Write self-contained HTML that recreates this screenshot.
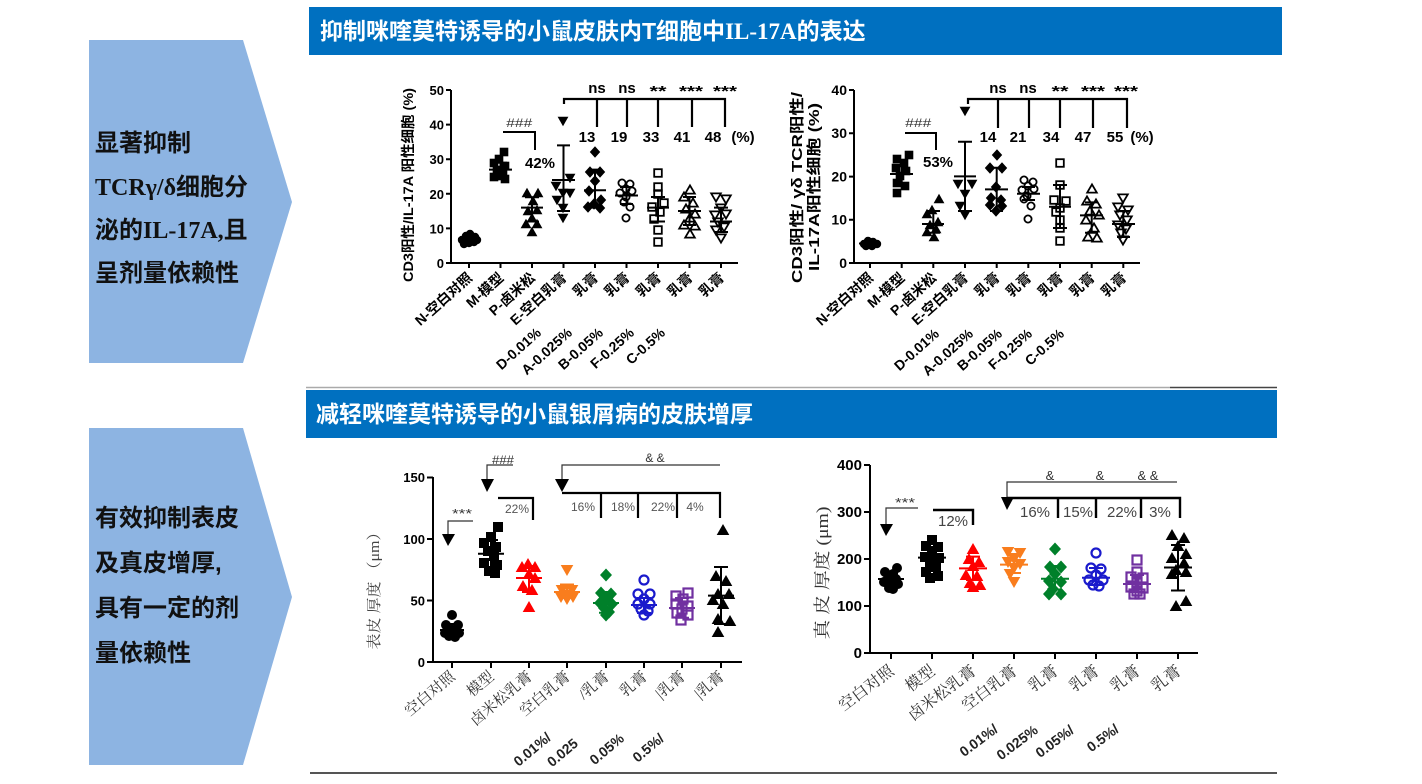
<!DOCTYPE html>
<html><head><meta charset="utf-8">
<style>
html,body{margin:0;padding:0;background:#fff;}
svg{display:block;}
.s{font-family:"Liberation Sans","Noto Sans CJK SC",sans-serif;}
.sr{font-family:"Liberation Serif","Noto Serif CJK SC",serif;}
</style></head><body>
<svg width="1422" height="784" viewBox="0 0 1422 784" xmlns="http://www.w3.org/2000/svg">
<defs>
<circle id="c" r="4.2"/>
<rect id="q" x="-4.3" y="-4.3" width="8.6" height="8.6"/>
<path id="t" d="M0,-5.2L5.4,4.2L-5.4,4.2Z"/>
<path id="v" d="M0,5.2L5.4,-4.2L-5.4,-4.2Z"/>
<path id="d" d="M0,-5.8L5.2,0L0,5.8L-5.2,0Z"/>
<circle id="oc" r="3.6"/>
<rect id="oq" x="-3.8" y="-3.8" width="7.6" height="7.6"/>
<path id="ot" d="M0,-4.6L4.8,3.6L-4.8,3.6Z"/>
<path id="ov" d="M0,4.6L4.8,-3.6L-4.8,-3.6Z"/>
<circle id="C2" r="5"/>
<rect id="Q2" x="-5" y="-5" width="10" height="10"/>
<path id="T2" d="M0,-6L6.3,5L-6.3,5Z"/>
<path id="V2" d="M0,6L6.3,-5L-6.3,-5Z"/>
<path id="D2" d="M0,-6.5L6,0L0,6.5L-6,0Z"/>
<circle id="OC2" r="4.5"/>
<rect id="OQ2" x="-4.5" y="-4.5" width="9" height="9"/>
</defs>
<rect width="1422" height="784" fill="#fff"/>

<!-- Left arrows -->
<polygon points="89,40 243,40 292,202 243,363 89,363" fill="#8db4e2"/>
<polygon points="89,428 243,428 292,597 243,765 89,765" fill="#8db4e2"/>
<g class="s" font-size="24" font-weight="bold" fill="#111">
<text x="95" y="151">显著抑制</text>
<text x="95" y="195"><tspan font-family="Liberation Serif">TCRγ/δ</tspan>细胞分</text>
<text x="95" y="238">泌的<tspan font-family="Liberation Serif">IL-17A,</tspan>且</text>
<text x="95" y="281">呈剂量依赖性</text>
<text x="95" y="526">有效抑制表皮</text>
<text x="95" y="571">及真皮增厚,</text>
<text x="95" y="616">具有一定的剂</text>
<text x="95" y="661">量依赖性</text>
</g>

<!-- Headers -->
<rect x="309" y="7" width="973" height="48" fill="#0070c0"/>
<text class="s" x="320" y="39" fill="#fff" font-size="23" font-weight="bold">抑制咪喹莫特诱导的小鼠皮肤内T细胞中<tspan font-family="Liberation Serif">IL-17A</tspan>的表达</text>
<path d="M306,387.5H1170" stroke="#aaa" stroke-width="1.5"/>
<path d="M1170,387.5H1277" stroke="#444" stroke-width="1.5"/>
<rect x="306" y="390" width="971" height="48" fill="#0070c0"/>
<text class="s" x="316" y="422" fill="#fff" font-size="23" font-weight="bold">减轻咪喹莫特诱导的小鼠银屑病的皮肤增厚</text>
<path d="M310,773H1277" stroke="#555" stroke-width="2"/>

<!-- ============ TOP LEFT CHART ============ -->
<g class="s" font-weight="bold" fill="#000">
<path d="M451,90V263H738" stroke="#000" stroke-width="2" fill="none"/>
<path d="M446,90H451M446,124.6H451M446,159.2H451M446,193.8H451M446,228.4H451M446,263H451" stroke="#000" stroke-width="2"/>
<path d="M469,263V268M500.5,263V268M532,263V268M563.5,263V268M595,263V268M626.5,263V268M658,263V268M689.5,263V268M721,263V268" stroke="#000" stroke-width="2"/>
<g font-size="13" text-anchor="end">
<text x="444" y="95">50</text><text x="444" y="129.6">40</text><text x="444" y="164">30</text>
<text x="444" y="198.8">20</text><text x="444" y="233.4">10</text><text x="444" y="268">0</text>
</g>
<text transform="translate(413,185) rotate(-90)" text-anchor="middle" font-size="14" textLength="194" lengthAdjust="spacingAndGlyphs">CD3阳性/IL-17A 阳性细胞 (%)</text>
<!-- markers -->
<g fill="#000">
<use href="#c" x="462" y="240"/><use href="#c" x="466" y="236"/><use href="#c" x="470" y="234"/><use href="#c" x="475" y="237"/><use href="#c" x="464" y="244"/><use href="#c" x="469" y="243"/><use href="#c" x="474" y="242"/><use href="#c" x="471" y="239"/><use href="#c" x="477" y="240"/><use href="#c" x="467" y="239"/>
<use href="#q" x="504" y="152"/><use href="#q" x="499" y="159"/><use href="#q" x="494" y="163"/><use href="#q" x="505" y="166"/><use href="#q" x="497" y="170"/><use href="#q" x="503" y="172"/><use href="#q" x="494" y="177"/><use href="#q" x="505" y="179"/><use href="#q" x="500" y="176"/>
<use href="#t" x="527" y="193"/><use href="#t" x="538" y="193"/><use href="#t" x="533" y="201"/><use href="#t" x="528" y="211"/><use href="#t" x="537" y="210"/><use href="#t" x="532" y="218"/><use href="#t" x="526" y="224"/><use href="#t" x="537" y="224"/><use href="#t" x="532" y="232"/>
<use href="#v" x="563" y="121"/><use href="#v" x="570" y="178"/><use href="#v" x="556" y="186"/><use href="#v" x="563" y="193"/><use href="#v" x="570" y="193"/><use href="#v" x="557" y="200"/><use href="#v" x="563" y="208"/><use href="#v" x="563" y="218"/>
<use href="#d" x="595" y="152"/><use href="#d" x="590" y="172"/><use href="#d" x="600" y="172"/><use href="#d" x="595" y="181"/><use href="#d" x="589" y="191"/><use href="#d" x="601" y="200"/><use href="#d" x="594" y="204"/><use href="#d" x="588" y="207"/><use href="#d" x="600" y="208"/>
</g>
<g fill="none" stroke="#000" stroke-width="1.8">
<use href="#oc" x="622" y="183"/><use href="#oc" x="630" y="184"/><use href="#oc" x="626" y="189"/><use href="#oc" x="620" y="193"/><use href="#oc" x="632" y="191"/><use href="#oc" x="626" y="197"/><use href="#oc" x="624" y="202"/><use href="#oc" x="630" y="207"/><use href="#oc" x="626" y="218"/>
<use href="#oq" x="658" y="173"/><use href="#oq" x="658" y="187"/><use href="#oq" x="658" y="194"/><use href="#oq" x="664" y="203"/><use href="#oq" x="652" y="207"/><use href="#oq" x="660" y="212"/><use href="#oq" x="654" y="219"/><use href="#oq" x="658" y="230"/><use href="#oq" x="658" y="242"/>
<use href="#ot" x="690" y="190"/><use href="#ot" x="684" y="197"/><use href="#ot" x="693" y="203"/><use href="#ot" x="686" y="209"/><use href="#ot" x="695" y="214"/><use href="#ot" x="690" y="218"/><use href="#ot" x="684" y="225"/><use href="#ot" x="695" y="226"/><use href="#ot" x="690" y="234"/>
<use href="#ov" x="716" y="197"/><use href="#ov" x="726" y="199"/><use href="#ov" x="721" y="208"/><use href="#ov" x="715" y="215"/><use href="#ov" x="726" y="214"/><use href="#ov" x="718" y="222"/><use href="#ov" x="724" y="227"/><use href="#ov" x="716" y="230"/><use href="#ov" x="721" y="238"/>
</g>
<!-- error bars -->
<path fill="none" stroke="#000" stroke-width="2" d="
M469,242V235.5M463,242H475M463,235.5H475M458,238.8H480
M500.5,176.5V162.7M494,176.5H507M494,162.7H507M489,169.6H512
M532,221.5V197.3M525,221.5H539M525,197.3H539M521,207.6H543
M563.5,211V145.4M557,211H570M557,145.4H570M552,180H575
M595,207.6V169.6M588,207.6H602M588,169.6H602M584,190.3H606
M626.5,204V187M620,204H633M620,187H633M615,195.5H638
M658,221.5V197M651,221.5H665M651,197H665M647,207.6H669
M689.5,225V197M683,225H696M683,197H696M678,211H701
M721,232V207.6M714,232H728M714,207.6H728M710,221.5H732"/>
<!-- annotations -->
<text x="519" y="127" font-size="12" font-weight="normal" font-style="italic" fill="#333" text-anchor="middle" textLength="26" lengthAdjust="spacingAndGlyphs">###</text>
<path d="M503,132H535V150" fill="none" stroke="#000" stroke-width="2"/>
<text x="540" y="168" font-size="15" text-anchor="middle">42%</text>
<path d="M564,104V99H725V127M597,99V127M627,99V127M658,99V127M692,99V127" fill="none" stroke="#000" stroke-width="2.2"/>
<g font-size="15" text-anchor="middle">
<text x="597" y="93">ns</text><text x="627" y="93">ns</text>
<text x="658" y="96" textLength="17" lengthAdjust="spacingAndGlyphs">**</text>
<text x="691" y="96" textLength="24" lengthAdjust="spacingAndGlyphs">***</text>
<text x="725" y="96" textLength="24" lengthAdjust="spacingAndGlyphs">***</text>
<text x="587" y="142">13</text><text x="619" y="142">19</text><text x="651" y="142">33</text><text x="682" y="142">41</text><text x="713" y="142">48</text><text x="743" y="142">(%)</text>
</g>
<!-- x labels -->
<g font-size="14" text-anchor="end">
<text transform="translate(473,279) rotate(-42)">N-空白对照</text>
<text transform="translate(504.5,279) rotate(-42)">M-模型</text>
<text transform="translate(536,279) rotate(-42)">P-卤米松</text>
<text transform="translate(567.5,279) rotate(-42)">E-空白乳膏</text>
<text transform="translate(599,279) rotate(-42)">乳膏</text>
<text transform="translate(630.5,279) rotate(-42)">乳膏</text>
<text transform="translate(662,279) rotate(-42)">乳膏</text>
<text transform="translate(693.5,279) rotate(-42)">乳膏</text>
<text transform="translate(725,279) rotate(-42)">乳膏</text>
<text transform="translate(542,334) rotate(-42)">D-0.01%</text>
<text transform="translate(573,334) rotate(-42)">A-0.025%</text>
<text transform="translate(604,334) rotate(-42)">B-0.05%</text>
<text transform="translate(635,334) rotate(-42)">F-0.25%</text>
<text transform="translate(666,334) rotate(-42)">C-0.5%</text>
</g>
</g>

<!-- ============ TOP RIGHT CHART ============ -->
<g class="s" font-weight="bold" fill="#000">
<path d="M854,90V263H1140" stroke="#000" stroke-width="2" fill="none"/>
<path d="M849,90H854M849,133.3H854M849,176.6H854M849,219.7H854M849,263H854" stroke="#000" stroke-width="2"/>
<path d="M870,263V268M901.7,263V268M933.3,263V268M965,263V268M996.7,263V268M1028.3,263V268M1060,263V268M1091.7,263V268M1123.3,263V268" stroke="#000" stroke-width="2"/>
<g font-size="14" text-anchor="end">
<text x="847" y="95">40</text><text x="847" y="138">30</text><text x="847" y="181.5">20</text><text x="847" y="224.7">10</text><text x="847" y="268">0</text>
</g>
<text transform="translate(802,187.5) rotate(-90)" text-anchor="middle" font-size="15" textLength="191" lengthAdjust="spacingAndGlyphs">CD3阳性/ γδ TCR阳性/</text>
<text transform="translate(819,187) rotate(-90)" text-anchor="middle" font-size="15" textLength="168" lengthAdjust="spacingAndGlyphs">IL-17A阳性细胞 (%)</text>
<g fill="#000">
<use href="#c" x="864" y="244"/><use href="#c" x="868" y="241"/><use href="#c" x="873" y="242"/><use href="#c" x="877" y="244"/><use href="#c" x="866" y="246"/><use href="#c" x="872" y="246"/><use href="#c" x="870" y="243"/>
<use href="#q" x="909" y="155"/><use href="#q" x="897" y="159"/><use href="#q" x="904" y="163"/><use href="#q" x="896" y="168"/><use href="#q" x="906" y="171"/><use href="#q" x="900" y="176"/><use href="#q" x="897" y="183"/><use href="#q" x="905" y="186"/><use href="#q" x="897" y="193"/>
<use href="#t" x="939" y="199"/><use href="#t" x="932" y="210"/><use href="#t" x="927" y="214"/><use href="#t" x="938" y="222"/><use href="#t" x="930" y="225"/><use href="#t" x="936" y="229"/><use href="#t" x="927" y="232"/><use href="#t" x="934" y="237"/>
<use href="#v" x="965" y="111"/><use href="#v" x="958" y="184"/><use href="#v" x="972" y="184"/><use href="#v" x="965" y="194"/><use href="#v" x="960" y="206"/><use href="#v" x="965" y="215"/>
<use href="#d" x="997" y="155"/><use href="#d" x="990" y="168"/><use href="#d" x="1002" y="168"/><use href="#d" x="996" y="187"/><use href="#d" x="991" y="198"/><use href="#d" x="1001" y="200"/><use href="#d" x="990" y="205"/><use href="#d" x="1002" y="206"/><use href="#d" x="996" y="211"/>
</g>
<g fill="none" stroke="#000" stroke-width="1.8">
<use href="#oc" x="1024" y="180"/><use href="#oc" x="1033" y="182"/><use href="#oc" x="1028" y="186"/><use href="#oc" x="1022" y="190"/><use href="#oc" x="1034" y="189"/><use href="#oc" x="1027" y="196"/><use href="#oc" x="1024" y="199"/><use href="#oc" x="1031" y="206"/><use href="#oc" x="1028" y="219"/>
<use href="#oq" x="1060" y="163"/><use href="#oq" x="1060" y="185"/><use href="#oq" x="1054" y="200"/><use href="#oq" x="1066" y="201"/><use href="#oq" x="1060" y="208"/><use href="#oq" x="1056" y="212"/><use href="#oq" x="1060" y="220"/><use href="#oq" x="1060" y="228"/><use href="#oq" x="1060" y="241"/>
<use href="#ot" x="1092" y="189"/><use href="#ot" x="1087" y="201"/><use href="#ot" x="1096" y="204"/><use href="#ot" x="1090" y="211"/><use href="#ot" x="1099" y="215"/><use href="#ot" x="1086" y="220"/><use href="#ot" x="1094" y="228"/><use href="#ot" x="1088" y="237"/><use href="#ot" x="1097" y="238"/>
<use href="#ov" x="1123" y="198"/><use href="#ov" x="1118" y="207"/><use href="#ov" x="1128" y="210"/><use href="#ov" x="1120" y="215"/><use href="#ov" x="1127" y="220"/><use href="#ov" x="1118" y="225"/><use href="#ov" x="1126" y="229"/><use href="#ov" x="1121" y="233"/><use href="#ov" x="1123" y="240"/>
</g>
<path fill="none" stroke="#000" stroke-width="2" d="
M870,245V242M864,245H876M864,242H876M859,243.5H881
M901.7,183V165.6M895,183H908M895,165.6H908M890,174H913
M933.3,232.7V211M927,232.7H940M927,211H940M922,224H944
M965,211V141.8M958,211H972M958,141.8H972M954,176.4H976
M996.7,211V167.7M990,211H1003M990,167.7H1003M985,189.4H1008
M1028.3,200V187M1022,200H1035M1022,187H1035M1017,193.7H1040
M1060,228V185M1053,228H1067M1053,185H1067M1049,206.7H1071
M1091.7,232.7V202.4M1085,232.7H1098M1085,202.4H1098M1080,215.4H1103
M1123.3,237V211M1117,237H1130M1117,211H1130M1112,224H1135"/>
<text x="918" y="127" font-size="12" font-weight="normal" font-style="italic" fill="#333" text-anchor="middle" textLength="26" lengthAdjust="spacingAndGlyphs">###</text>
<path d="M905,133H936V150" fill="none" stroke="#000" stroke-width="2"/>
<text x="938" y="167" font-size="15" text-anchor="middle">53%</text>
<path d="M968,104V99H1127V128M998,99V128M1029,99V128M1060,99V128M1093,99V128" fill="none" stroke="#000" stroke-width="2.2"/>
<g font-size="15" text-anchor="middle">
<text x="998" y="93">ns</text><text x="1028" y="93">ns</text>
<text x="1060" y="96" textLength="17" lengthAdjust="spacingAndGlyphs">**</text>
<text x="1093" y="96" textLength="24" lengthAdjust="spacingAndGlyphs">***</text>
<text x="1126" y="96" textLength="24" lengthAdjust="spacingAndGlyphs">***</text>
<text x="988" y="142">14</text><text x="1018" y="142">21</text><text x="1051" y="142">34</text><text x="1083" y="142">47</text><text x="1115" y="142">55</text><text x="1142" y="142">(%)</text>
</g>
<g font-size="14" text-anchor="end">
<text transform="translate(874,279) rotate(-42)">N-空白对照</text>
<text transform="translate(905.7,279) rotate(-42)">M-模型</text>
<text transform="translate(937.3,279) rotate(-42)">P-卤米松</text>
<text transform="translate(969,279) rotate(-42)">E-空白乳膏</text>
<text transform="translate(1000.7,279) rotate(-42)">乳膏</text>
<text transform="translate(1032.3,279) rotate(-42)">乳膏</text>
<text transform="translate(1064,279) rotate(-42)">乳膏</text>
<text transform="translate(1095.7,279) rotate(-42)">乳膏</text>
<text transform="translate(1127.3,279) rotate(-42)">乳膏</text>
<text transform="translate(940,335) rotate(-42)">D-0.01%</text>
<text transform="translate(974,335) rotate(-42)">A-0.025%</text>
<text transform="translate(1003,335) rotate(-42)">B-0.05%</text>
<text transform="translate(1033,335) rotate(-42)">F-0.25%</text>
<text transform="translate(1065,335) rotate(-42)">C-0.5%</text>
</g>
</g>

<!-- ============ BOTTOM LEFT CHART ============ -->
<g class="s" font-weight="bold" fill="#000">
<path d="M433,477V662H742" stroke="#000" stroke-width="2" fill="none"/>
<path d="M427,477.5H433M427,539H433M427,600.5H433M427,662H433" stroke="#000" stroke-width="2"/>
<path d="M452,662V668M491,662V668M529,662V668M567,662V668M606,662V668M644,662V668M682,662V668M721,662V668" stroke="#000" stroke-width="2"/>
<g font-size="13" text-anchor="end">
<text x="425" y="482">150</text><text x="425" y="544">100</text><text x="425" y="605.5">50</text><text x="425" y="667">0</text>
</g>
<text class="sr" transform="translate(379,587) rotate(-90)" text-anchor="middle" font-size="15" font-weight="normal" fill="#444" textLength="125" lengthAdjust="spacingAndGlyphs">表皮 厚度 （μm）</text>
<g fill="#000">
<use href="#C2" x="452" y="615"/><use href="#C2" x="446" y="625"/><use href="#C2" x="458" y="625"/><use href="#C2" x="452" y="630"/><use href="#C2" x="445" y="633"/><use href="#C2" x="459" y="633"/><use href="#C2" x="449" y="636"/><use href="#C2" x="455" y="637"/>
<use href="#Q2" x="498" y="527"/><use href="#Q2" x="491" y="537"/><use href="#Q2" x="484" y="543"/><use href="#Q2" x="496" y="547"/><use href="#Q2" x="488" y="551"/><use href="#Q2" x="494" y="556"/><use href="#Q2" x="484" y="563"/><use href="#Q2" x="497" y="565"/><use href="#Q2" x="489" y="571"/><use href="#Q2" x="495" y="573"/>
<use href="#T2" x="723" y="530"/><use href="#T2" x="716" y="576"/><use href="#T2" x="726" y="581"/><use href="#T2" x="718" y="594"/><use href="#T2" x="729" y="594"/><use href="#T2" x="713" y="600"/><use href="#T2" x="723" y="604"/><use href="#T2" x="718" y="619"/><use href="#T2" x="730" y="621"/><use href="#T2" x="718" y="632"/>
</g>
<g fill="#ff0000">
<use href="#T2" x="528" y="564"/><use href="#T2" x="535" y="567"/><use href="#T2" x="522" y="567"/><use href="#T2" x="529" y="574"/><use href="#T2" x="535" y="578"/><use href="#T2" x="523" y="586"/><use href="#T2" x="532" y="590"/><use href="#T2" x="529" y="607"/>
</g>
<g fill="#f97d1d">
<use href="#V2" x="567" y="570"/><use href="#V2" x="562" y="590"/><use href="#V2" x="572" y="590"/><use href="#V2" x="567" y="595"/><use href="#V2" x="561" y="597"/><use href="#V2" x="573" y="597"/><use href="#V2" x="567" y="599"/>
</g>
<g fill="#00802a">
<use href="#D2" x="606" y="575"/><use href="#D2" x="601" y="593"/><use href="#D2" x="611" y="594"/><use href="#D2" x="606" y="599"/><use href="#D2" x="600" y="603"/><use href="#D2" x="612" y="604"/><use href="#D2" x="604" y="608"/><use href="#D2" x="609" y="612"/><use href="#D2" x="606" y="615"/>
</g>
<g fill="none" stroke="#1a1acc" stroke-width="2.2">
<use href="#OC2" x="644" y="580"/><use href="#OC2" x="638" y="594"/><use href="#OC2" x="650" y="594"/><use href="#OC2" x="644" y="599"/><use href="#OC2" x="638" y="604"/><use href="#OC2" x="650" y="604"/><use href="#OC2" x="641" y="609"/><use href="#OC2" x="648" y="611"/><use href="#OC2" x="644" y="615"/>
</g>
<g fill="none" stroke="#7030a0" stroke-width="2.2">
<use href="#OQ2" x="688" y="593"/><use href="#OQ2" x="676" y="596"/><use href="#OQ2" x="683" y="599"/><use href="#OQ2" x="676" y="604"/><use href="#OQ2" x="688" y="606"/><use href="#OQ2" x="682" y="609"/><use href="#OQ2" x="677" y="613"/><use href="#OQ2" x="688" y="615"/><use href="#OQ2" x="681" y="620"/>
</g>
<path fill="none" stroke="#000" stroke-width="2" d="M452,635V624M445,635H459M445,624H459M440,630H464
M491,567V540M484,567H498M484,540H498M478,553.8H504
M721,624V567M714,624H728M714,567H728M708,595.6H734"/>
<path fill="none" stroke="#ff0000" stroke-width="2" d="M529,592V566M522,592H536M522,566H536M516,578H542"/>
<path fill="none" stroke="#f97d1d" stroke-width="2" d="M567,598V584.5M560,598H574M560,584.5H574M554,592H580"/>
<path fill="none" stroke="#00802a" stroke-width="2" d="M606,612.8V592M599,612.8H613M599,592H613M593,603H619"/>
<path fill="none" stroke="#1a1acc" stroke-width="2" d="M644,613V598M637,613H651M637,598H651M631,605H657"/>
<path fill="none" stroke="#7030a0" stroke-width="2" d="M682,617.7V598M675,617.7H689M675,598H689M669,608H695"/>
<!-- annotations -->
<g font-weight="normal" fill="#333" text-anchor="middle">
<text x="462" y="518" font-size="13" textLength="20" lengthAdjust="spacingAndGlyphs">***</text>
<text x="503" y="464" font-size="12" textLength="22" lengthAdjust="spacingAndGlyphs">###</text>
<text x="517" y="513" font-size="12" fill="#555">22%</text>
<text x="655" y="462" font-size="12">&amp; &amp;</text>
<text x="583" y="511" font-size="12" fill="#555">16%</text>
<text x="623" y="511" font-size="12" fill="#555">18%</text>
<text x="663" y="511" font-size="12" fill="#555">22%</text>
<text x="695" y="511" font-size="12" fill="#555">4%</text>
</g>
<path d="M473,521H448V536M513,465H487V480M720,465H562V480" fill="none" stroke="#333" stroke-width="1.2"/>
<path d="M442,534H455L448,546ZM481,479H494L487,492ZM555,479H569L562,492Z" fill="#000"/>
<path d="M498,498H533V520M562,493H720V518M601,493V518M638,493V518M677,493V518" fill="none" stroke="#000" stroke-width="2.2"/>
<!-- x labels -->
<g class="sr" font-size="15" font-weight="normal" fill="#333" text-anchor="end">
<text transform="translate(456,678) rotate(-40)">空白对照</text>
<text transform="translate(495,678) rotate(-40)">模型</text>
<text transform="translate(533,678) rotate(-40)">卤米松乳膏</text>
<text transform="translate(571,678) rotate(-40)">空白乳膏</text>
<text transform="translate(610,678) rotate(-40)">/乳膏</text>
<text transform="translate(648,678) rotate(-40)">乳膏</text>
<text transform="translate(686,678) rotate(-40)">|乳膏</text>
<text transform="translate(725,678) rotate(-40)">|乳膏</text>
</g>
<g font-size="14" fill="#222" text-anchor="end">
<text transform="translate(552,739) rotate(-40)">0.01%/</text>
<text transform="translate(579,745) rotate(-40)">0.025</text>
<text transform="translate(625,740) rotate(-40)">0.05%</text>
<text transform="translate(665,740) rotate(-40)">0.5%/</text>
</g>
</g>

<!-- ============ BOTTOM RIGHT CHART ============ -->
<g class="s" font-weight="bold" fill="#000">
<path d="M870,465V653H1198" stroke="#000" stroke-width="2" fill="none"/>
<path d="M864,465H870M864,512H870M864,559H870M864,606H870M864,653H870" stroke="#000" stroke-width="2"/>
<path d="M891,653V659M932,653V659M973,653V659M1014,653V659M1055,653V659M1096,653V659M1137,653V659M1178,653V659" stroke="#000" stroke-width="2"/>
<g font-size="15" text-anchor="end">
<text x="862" y="470">400</text><text x="862" y="517">300</text><text x="862" y="564">200</text><text x="862" y="611">100</text><text x="862" y="658">0</text>
</g>
<text class="sr" transform="translate(828,573) rotate(-90)" text-anchor="middle" font-size="17" font-weight="normal" fill="#333" textLength="133" lengthAdjust="spacingAndGlyphs">真 皮 厚度 (μm)</text>
<g fill="#000">
<use href="#C2" x="897" y="568"/><use href="#C2" x="885" y="572"/><use href="#C2" x="893" y="574"/><use href="#C2" x="888" y="578"/><use href="#C2" x="896" y="579"/><use href="#C2" x="884" y="582"/><use href="#C2" x="891" y="583"/><use href="#C2" x="898" y="584"/><use href="#C2" x="889" y="588"/><use href="#C2" x="893" y="589"/>
<use href="#Q2" x="932" y="540"/><use href="#Q2" x="926" y="546"/><use href="#Q2" x="938" y="547"/><use href="#Q2" x="932" y="553"/><use href="#Q2" x="925" y="557"/><use href="#Q2" x="939" y="558"/><use href="#Q2" x="930" y="563"/><use href="#Q2" x="936" y="567"/><use href="#Q2" x="926" y="572"/><use href="#Q2" x="938" y="576"/><use href="#Q2" x="930" y="578"/>
<use href="#T2" x="1172" y="535"/><use href="#T2" x="1184" y="538"/><use href="#T2" x="1178" y="546"/><use href="#T2" x="1186" y="554"/><use href="#T2" x="1172" y="558"/><use href="#T2" x="1184" y="563"/><use href="#T2" x="1176" y="570"/><use href="#T2" x="1186" y="572"/><use href="#T2" x="1172" y="574"/><use href="#T2" x="1186" y="601"/><use href="#T2" x="1176" y="606"/>
</g>
<g fill="#ff0000">
<use href="#T2" x="973" y="549"/><use href="#T2" x="969" y="559"/><use href="#T2" x="979" y="562"/><use href="#T2" x="973" y="566"/><use href="#T2" x="966" y="575"/><use href="#T2" x="977" y="576"/><use href="#T2" x="970" y="583"/><use href="#T2" x="980" y="585"/><use href="#T2" x="973" y="587"/>
</g>
<g fill="#f97d1d">
<use href="#V2" x="1008" y="552"/><use href="#V2" x="1020" y="553"/><use href="#V2" x="1014" y="559"/><use href="#V2" x="1008" y="562"/><use href="#V2" x="1020" y="564"/><use href="#V2" x="1014" y="568"/><use href="#V2" x="1010" y="574"/><use href="#V2" x="1014" y="582"/>
</g>
<g fill="#00802a">
<use href="#D2" x="1055" y="549"/><use href="#D2" x="1050" y="567"/><use href="#D2" x="1061" y="567"/><use href="#D2" x="1055" y="574"/><use href="#D2" x="1049" y="581"/><use href="#D2" x="1061" y="582"/><use href="#D2" x="1053" y="589"/><use href="#D2" x="1049" y="594"/><use href="#D2" x="1061" y="594"/>
</g>
<g fill="none" stroke="#1a1acc" stroke-width="2.2">
<use href="#OC2" x="1096" y="553"/><use href="#OC2" x="1091" y="568"/><use href="#OC2" x="1101" y="569"/><use href="#OC2" x="1096" y="575"/><use href="#OC2" x="1089" y="580"/><use href="#OC2" x="1103" y="580"/><use href="#OC2" x="1093" y="585"/><use href="#OC2" x="1099" y="586"/>
</g>
<g fill="none" stroke="#7030a0" stroke-width="2.2">
<use href="#OQ2" x="1137" y="560"/><use href="#OQ2" x="1137" y="572"/><use href="#OQ2" x="1131" y="577"/><use href="#OQ2" x="1143" y="578"/><use href="#OQ2" x="1137" y="583"/><use href="#OQ2" x="1131" y="587"/><use href="#OQ2" x="1143" y="588"/><use href="#OQ2" x="1137" y="591"/><use href="#OQ2" x="1134" y="594"/><use href="#OQ2" x="1140" y="594"/>
</g>
<path fill="none" stroke="#000" stroke-width="2" d="M891,585V573M884,585H898M884,573H898M878,579H904
M932,568.4V547M925,568.4H939M925,547H939M918,557.6H946
M1178,590.5V545M1171,590.5H1185M1171,545H1185M1164,567.5H1192"/>
<path fill="none" stroke="#ff0000" stroke-width="2" d="M973,580V556.6M966,580H980M966,556.6H980M959,568.4H987"/>
<path fill="none" stroke="#f97d1d" stroke-width="2" d="M1014,573V554M1007,573H1021M1007,554H1021M1000,564.6H1028"/>
<path fill="none" stroke="#00802a" stroke-width="2" d="M1055,589.5V566M1048,589.5H1062M1048,566H1062M1041,578.7H1069"/>
<path fill="none" stroke="#1a1acc" stroke-width="2" d="M1096,585V568M1089,585H1103M1089,568H1103M1082,577.8H1110"/>
<path fill="none" stroke="#7030a0" stroke-width="2" d="M1137,592V575M1130,592H1144M1130,575H1144M1123,584H1151"/>
<g font-weight="normal" fill="#333" text-anchor="middle">
<text x="905" y="507" font-size="13" textLength="20" lengthAdjust="spacingAndGlyphs">***</text>
<text x="953" y="526" font-size="15" fill="#444">12%</text>
<text x="1050" y="480" font-size="13">&amp;</text>
<text x="1100" y="480" font-size="13">&amp;</text>
<text x="1148" y="480" font-size="13">&amp; &amp;</text>
<text x="1035" y="517" font-size="15" fill="#444">16%</text>
<text x="1078" y="517" font-size="15" fill="#444">15%</text>
<text x="1122" y="517" font-size="15" fill="#444">22%</text>
<text x="1160" y="517" font-size="15" fill="#444">3%</text>
</g>
<path d="M918,508H886V525M1177,482H1007V498" fill="none" stroke="#333" stroke-width="1.2"/>
<path d="M880,524H893L886,536ZM1001,497H1014L1007,510Z" fill="#000"/>
<path d="M933,510H973V525M1007,498H1180V518M1058,498V518M1096,498V518M1141,498V518" fill="none" stroke="#000" stroke-width="2.4"/>
<g class="sr" font-size="16" font-weight="normal" fill="#333" text-anchor="end">
<text transform="translate(895,673) rotate(-37)">空白对照</text>
<text transform="translate(936,673) rotate(-37)">模型</text>
<text transform="translate(977,673) rotate(-37)">卤米松乳膏</text>
<text transform="translate(1018,673) rotate(-37)">空白乳膏</text>
<text transform="translate(1059,673) rotate(-37)">乳膏</text>
<text transform="translate(1100,673) rotate(-37)">乳膏</text>
<text transform="translate(1141,673) rotate(-37)">乳膏</text>
<text transform="translate(1182,673) rotate(-37)">乳膏</text>
</g>
<g font-size="14" fill="#222" text-anchor="end">
<text transform="translate(999,731) rotate(-37)">0.01%/</text>
<text transform="translate(1039,732) rotate(-37)">0.025%</text>
<text transform="translate(1075,732) rotate(-37)">0.05%/</text>
<text transform="translate(1120,731) rotate(-37)">0.5%/</text>
</g>
</g>
</svg>
</body></html>
